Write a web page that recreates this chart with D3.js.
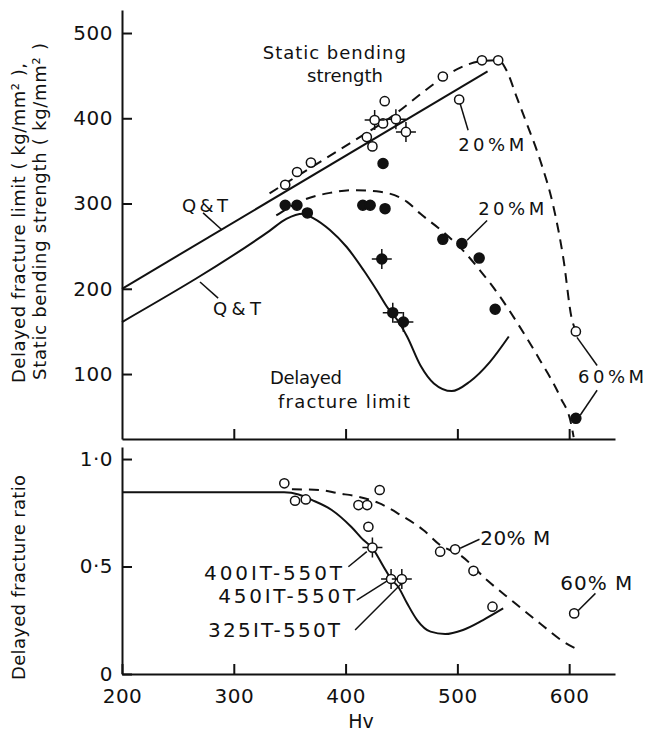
<!DOCTYPE html>
<html>
<head>
<meta charset="utf-8">
<script src="https://cdn.jsdelivr.net/npm/d3@7"></script>
<style>
    body { margin: 0; background: #fff; }
    svg text { font-family: "DejaVu Sans", sans-serif; fill: #111; }
</style>
</head>
<body>
<svg id="chart" width="648" height="735"></svg>
<script>
// ---- data (Hv vs strength / ratio) ----
var hvTicks = [200, 300, 400, 500, 600];
var strengthTicks = [100, 200, 300, 400, 500];
var ratioTicks = [0, 0.5, 1.0];
var ratioTickLabels = ["0", "0·5", "1·0"];

// upper panel curves
var bendQT = [[200, 200], [527, 455]];
var bendM = [[332, 312], [430, 392], [522, 467], [537, 468], [544, 456], [553, 425], [562, 394],
    [574, 351], [586, 296], [595, 234], [602, 167], [606, 150]];
var delayQT = [[200, 161], [332, 268], [347, 282], [362, 288], [371, 283], [386, 269], [401, 249],
    [416, 222], [428, 198], [438, 177], [446, 164], [455, 144], [467, 110], [479, 89], [495, 80],
    [511, 91], [529, 114], [546, 144]];
var delayM = [[338, 286], [362, 304], [386, 312.5], [407, 315.7], [431, 313.7], [455, 302],
    [467, 288], [487, 267], [505, 245], [520, 222], [538, 191], [556, 155], [574, 116],
    [592, 73], [602, 40], [604, 26]];

// upper panel points
var bendOpen = [[346, 322], [356.6, 337], [369, 348], [419, 378], [424, 367], [433.5, 394],
    [435, 420], [487, 449], [522, 468], [536.5, 468], [501.6, 422], [606, 150]];
var bendCross = [[426, 398], [445, 399], [454, 384]];
var delayFilled = [[346, 298], [356.5, 298], [365.8, 289], [433.5, 347], [415.4, 298], [422, 298],
    [435.3, 294], [487, 258], [504, 253], [519.5, 236], [533.8, 176], [606, 48]];
var delayCross = [[432.4, 235], [442.2, 172], [451.7, 161]];

// lower panel curves
var ratioQT = [[200, 0.845], [345, 0.845], [358, 0.835], [369.7, 0.81], [387.6, 0.763], [405, 0.685],
    [416, 0.623], [424, 0.586], [434, 0.499], [441, 0.44], [447, 0.406], [455, 0.329], [464, 0.251],
    [476, 0.197], [489, 0.186], [505, 0.205], [523, 0.251], [541, 0.305]];
var ratioM = [[352, 0.859], [377, 0.856], [394, 0.84], [408.5, 0.828], [429.4, 0.796], [449, 0.74],
    [469.5, 0.67], [484.6, 0.60], [502.5, 0.553], [526.4, 0.437], [550, 0.336], [574, 0.235],
    [595, 0.15], [608.4, 0.112]];

// lower panel points
var ratioOpen = [[345.2, 0.887], [354.8, 0.806], [364.4, 0.812], [411.5, 0.786], [419.3, 0.786],
    [430.5, 0.856], [420.4, 0.685], [484.6, 0.569], [498, 0.58], [514.4, 0.48], [531.4, 0.313],
    [604.5, 0.282]];
var ratioCross = [[424, 0.588], [440.7, 0.442], [450.3, 0.442]];

// annotations [text, Hv, value, width in px]
var topLabels = [["Static bending", 326, 469, 143], ["strength", 365.5, 442, 76],
    ["20%M", 500.7, 362, 66], ["20%M", 518.6, 286, 66], ["60%M", 608, 89, 66],
    ["Q&T", 253.7, 290, 46], ["Q&T", 281.4, 169, 48],
    ["Delayed", 332.4, 88, 72], ["fracture limit", 339.6, 60, 132]];
var topLeaders = [[[502.5, 417], [509.6, 386]], [[508.7, 257], [526.6, 280]], [[607, 143], [625, 110]],
    [[610, 52], [625, 81]], [[272.5, 289], [289.5, 269]], [[269.8, 208], [286, 189]]];
var botLabels = [["400IT-550T", 273.4, 0.437, 138], ["450IT-550T", 286, 0.33, 137],
    ["325IT-550T", 277, 0.172, 132], ["20% M", 520.4, 0.6, 70], ["60% M", 592, 0.39, 72]];
var botLeaders = [[[402.5, 0.499], [419, 0.569]], [[410, 0.344], [438.3, 0.437]],
    [[408.5, 0.205], [450.3, 0.422]], [[502.5, 0.585], [519.8, 0.627]], [[607, 0.29], [623.5, 0.375]]];

var svg = d3.select('#chart');

var x = d3.scaleLinear().domain([200, 641]).range([122, 615]);
var yTop = d3.scaleLinear().domain([23.8, 527]).range([439, 10]);
var yBot = d3.scaleLinear().domain([0, 1.056]).range([674, 447]);

function styleAxis(g) {
    g.selectAll('path, line').attr('stroke', '#111').attr('stroke-width', 2);
    g.selectAll('text').attr('font-size', 20).attr('letter-spacing', 0.5)
        .attr('font-family', '"DejaVu Sans", sans-serif').attr('fill', '#111');
}

// top panel axes
svg.append('g').attr('transform', 'translate(122,0)')
    .call(d3.axisLeft(yTop).tickValues(strengthTicks).tickSizeInner(-10).tickSizeOuter(0).tickPadding(9))
    .call(styleAxis);
svg.append('g').attr('transform', 'translate(0,439)')
    .call(d3.axisBottom(x).tickValues(hvTicks.slice(1)).tickSizeInner(-10).tickSizeOuter(0).tickFormat(''))
    .call(styleAxis);

// bottom panel axes
svg.append('g').attr('transform', 'translate(122,0)')
    .call(d3.axisLeft(yBot).tickValues(ratioTicks).tickSizeInner(-10).tickSizeOuter(0).tickPadding(9)
        .tickFormat(function(d, i) { return ratioTickLabels[i]; }))
    .call(styleAxis);
svg.append('g').attr('transform', 'translate(0,674)')
    .call(d3.axisBottom(x).tickValues(hvTicks).tickSizeInner(-10).tickSizeOuter(0).tickPadding(15))
    .call(styleAxis);

// axis titles
svg.append('text').attr('transform', 'translate(361,728)').attr('text-anchor', 'middle')
    .attr('font-size', 19).text('Hv');
svg.append('text').attr('transform', 'translate(25,383) rotate(-90)')
    .attr('font-size', 18).attr('textLength', 320).attr('lengthAdjust', 'spacing')
    .text('Delayed fracture limit ( kg/mm² ),');
svg.append('text').attr('transform', 'translate(46,380) rotate(-90)')
    .attr('font-size', 18).attr('textLength', 337).attr('lengthAdjust', 'spacing')
    .text('Static bending strength ( kg/mm² )');
svg.append('text').attr('transform', 'translate(25,680) rotate(-90)')
    .attr('font-size', 18).attr('textLength', 205).attr('lengthAdjust', 'spacing')
    .text('Delayed fracture ratio');

function drawCurve(data, yScale, dashed, curve) {
    var line = d3.line()
        .x(function(d) { return x(d[0]); })
        .y(function(d) { return yScale(d[1]); })
        .curve(curve || d3.curveMonotoneX);
    svg.append('path').datum(data)
        .attr('d', line)
        .attr('fill', 'none')
        .attr('stroke', '#111')
        .attr('stroke-width', 2)
        .attr('stroke-dasharray', dashed ? '10,7' : null);
}

function drawPoints(data, yScale, filled, cross) {
    var g = svg.append('g');
    var pts = g.selectAll('g').data(data).enter().append('g')
        .attr('transform', function(d) { return 'translate(' + x(d[0]) + ',' + yScale(d[1]) + ')'; });
    if (cross) {
        pts.append('path').attr('d', 'M-10,0H10M0,-10V10')
            .attr('stroke', '#111').attr('stroke-width', 1.5);
    }
    pts.append('circle')
        .attr('r', filled ? 5 : 4.6)
        .attr('fill', filled ? '#111' : '#fff')
        .attr('stroke', '#111')
        .attr('stroke-width', 1.5);
}

function drawLeaders(data, yScale) {
    svg.append('g').selectAll('line').data(data).enter().append('line')
        .attr('x1', function(d) { return x(d[0][0]); })
        .attr('y1', function(d) { return yScale(d[0][1]); })
        .attr('x2', function(d) { return x(d[1][0]); })
        .attr('y2', function(d) { return yScale(d[1][1]); })
        .attr('stroke', '#111').attr('stroke-width', 1.5);
}

function drawLabels(data, yScale, size) {
    svg.append('g').selectAll('text').data(data).enter().append('text')
        .attr('x', function(d) { return x(d[1]); })
        .attr('y', function(d) { return yScale(d[2]); })
        .attr('font-size', size)
        .attr('textLength', function(d) { return d[3]; })
        .attr('lengthAdjust', 'spacing')
        .text(function(d) { return d[0]; });
}

// top panel
drawCurve(bendQT, yTop, false, d3.curveLinear);
drawCurve(delayQT, yTop, false);
drawCurve(bendM, yTop, true);
drawCurve(delayM, yTop, true);
drawLeaders(topLeaders, yTop);
drawPoints(bendOpen, yTop, false, false);
drawPoints(bendCross, yTop, false, true);
drawPoints(delayFilled, yTop, true, false);
drawPoints(delayCross, yTop, true, true);
drawLabels(topLabels, yTop, 18);

// bottom panel
drawCurve(ratioQT, yBot, false);
drawCurve(ratioM, yBot, true);
drawLeaders(botLeaders, yBot);
drawPoints(ratioOpen, yBot, false, false);
drawPoints(ratioCross, yBot, false, true);
drawLabels(botLabels, yBot, 20);
</script>
</body>
</html>
